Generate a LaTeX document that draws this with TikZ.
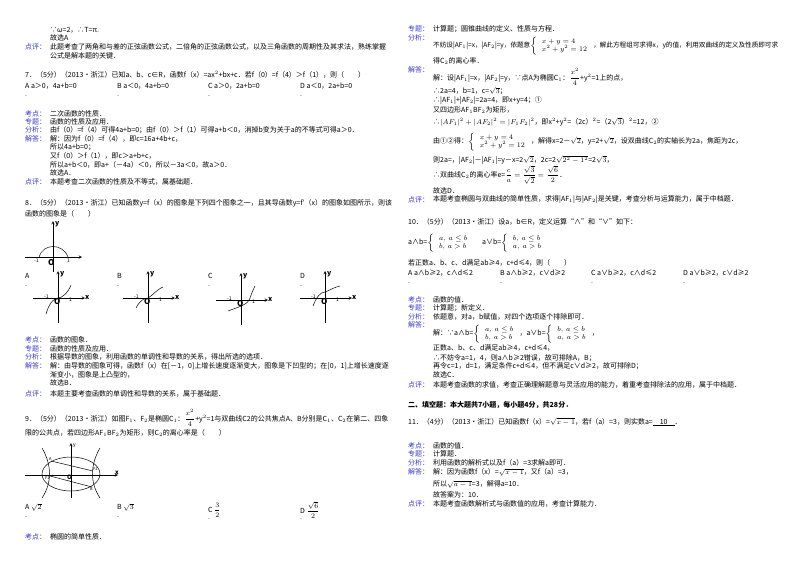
\documentclass[tikz,border=0pt]{standalone}
\usepackage{fontspec}
\setmainfont{Noto Sans CJK SC}
\definecolor{lab}{HTML}{3A3AD0}
\tikzset{T/.style={anchor=west,inner sep=0pt,font=\fontsize{7}{8}\selectfont},
 L/.style={T,text=lab},ax/.style={->,>=stealth,line width=0.5pt},cv/.style={line width=0.5pt}}
\newcommand\Tx[3]{\node[T] at (#1,-#2) {#3};}
\newcommand\Lb[3]{\node[L] at (#1,-#2) {#3};}
\begin{document}
\begin{tikzpicture}[x=1pt,y=1pt]
\fill[white] (0,0) rectangle (800,-566);
\useasboundingbox (0,0) rectangle (800,-566);
% ===== left column
\Tx{50}{30}{∵ω=2，∴T=π.}
\Tx{50}{38}{故选A}
\Lb{25}{47}{点评：}
\Tx{50}{47}{此题考查了两角和与差的正弦函数公式，二倍角的正弦函数公式，以及三角函数的周期性及其求法，熟练掌握}
\Tx{50}{56}{公式是解本题的关键．}
\Tx{25}{75}{7．（5分）（2013•浙江）已知a、b、c∈R，函数f（x）=ax$^2$+bx+c．若f（0）=f（4）＞f（1），则（\quad\quad）}
\Tx{25}{86}{A a＞0，4a+b=0}\Tx{117}{86}{B a＜0，4a+b=0}\Tx{208}{86}{C a＞0，2a+b=0}\Tx{300}{86}{D a＜0，2a+b=0}
\Tx{25}{96}{.}\Tx{117}{96}{.}\Tx{208}{96}{.}\Tx{300}{96}{.}
\Lb{25}{114}{考点：}\Tx{50}{114}{二次函数的性质．}
\Lb{25}{122}{专题：}\Tx{50}{122}{函数的性质及应用．}
\Lb{25}{130}{分析：}\Tx{50}{130}{由f（0）=f（4）可得4a+b=0；由f（0）＞f（1）可得a+b＜0，消掉b变为关于a的不等式可得a＞0．}
\Lb{25}{139}{解答：}\Tx{50}{139}{解：因为f（0）=f（4），即c=16a+4b+c，}
\Tx{50}{147}{所以4a+b=0；}
\Tx{50}{156}{又f（0）＞f（1），即c＞a+b+c，}
\Tx{50}{165}{所以a+b＜0，即a+（－4a）＜0，所以－3a＜0，故a＞0．}
\Tx{50}{173}{故选A．}
\Lb{25}{182}{点评：}\Tx{50}{182}{本题考查二次函数的性质及不等式，属基础题．}
\Tx{25}{203}{8．（5分）（2013•浙江）已知函数y=f（x）的图象是下列四个图象之一，且其导函数y=f′（x）的图象如图所示，则该}
\Tx{25}{214}{函数的图象是（\quad\quad）}
% main graph
\draw[ax] (25,-257) -- (82,-257);
\draw[ax] (53,-272) -- (53,-221);
\draw[cv] (39,-257) .. controls (43,-243) and (63,-243) .. (68,-257);
\node[T,font=\bfseries\fontsize{7}{8}\selectfont] at (55,-224) {y};
\node[T,font=\bfseries\fontsize{8}{8}\selectfont] at (48,-263) {O};
\node[T,font=\fontsize{5}{5}\selectfont] at (34,-261) {-1};
\node[T,font=\fontsize{5}{5}\selectfont] at (67,-261) {1};
% options
\foreach \cx/\cy/\lx/\ty [count=\i] in {58/298/25/A,148/298/117/B,241/300/208/C,325/298/300/D}{
 \node[T] at (\lx,-276) {\ty};\node[T] at (\lx,-286) {.};
 \draw[ax] (\cx-25,-\cy) -- (\cx+27,-\cy);
 \draw[ax] (\cx,-\cy-25) -- (\cx,-\cy+27);
 \node[T,font=\bfseries\fontsize{7}{8}\selectfont] at (\cx+2,-\cy+24) {y};
 \node[T,font=\bfseries\fontsize{7}{8}\selectfont] at (\cx+27,-\cy+1) {x};
 \node[T,font=\bfseries\fontsize{8}{8}\selectfont] at (\cx-4,-\cy-4) {O};
 \node[T,font=\fontsize{5}{5}\selectfont] at (\cx-14,-\cy+1) {-1};
 \node[T,font=\fontsize{5}{5}\selectfont] at (\cx+11,-\cy-2) {1};
}
\draw[cv] (46,-314) .. controls (50,-300) and (56,-298) .. (58,-298) .. controls (62,-298) and (68,-293) .. (71,-285);
\draw[cv] (136,-308) .. controls (140,-300) and (145,-298) .. (148,-298) .. controls (152,-296) and (156,-290) .. (163,-287);
\draw[cv] (228,-311) .. controls (238,-307) and (248,-305) .. (250,-298) .. controls (252,-292) and (254,-288) .. (255,-286);
\draw[cv] (313,-306) .. controls (316,-298) and (320,-292) .. (325,-292) .. controls (330,-290) and (335,-287) .. (340,-286);
\Lb{25}{340}{考点：}\Tx{50}{340}{函数的图象．}
\Lb{25}{349}{专题：}\Tx{50}{349}{函数的性质及应用．}
\Lb{25}{357}{分析：}\Tx{50}{357}{根据导数的图象，利用函数的单调性和导数的关系，得出所选的选项．}
\Lb{25}{366}{解答：}\Tx{50}{366}{解：由导数的图象可得，函数f（x）在[－1，0]上增长速度逐渐变大，图象是下凹型的；在[0，1]上增长速度逐}
\Tx{50}{375}{渐变小，图象是上凸型的，}
\Tx{50}{383}{故选B．}
\Lb{25}{394}{点评：}\Tx{50}{394}{本题主要考查函数的单调性和导数的关系，属于基础题．}
\Tx{25}{418}{9．（5分）（2013•浙江）如图F$_1$、F$_2$是椭圆C$_1$：$\displaystyle\frac{x^2}{4}$+y$^2$=1与双曲线C2的公共焦点A、B分别是C$_1$、C$_2$在第二、四象}
\Tx{25}{433}{限的公共点，若四边形AF$_1$BF$_2$为矩形，则C$_2$的离心率是（\quad\quad）}
% figure 9
\draw[ax] (25,-475) -- (118,-475);
\draw[ax] (71,-498) -- (71,-443);
\draw[cv] (71,-474) ellipse (29 and 17);
\draw[cv] (42,-448) .. controls (52,-465) and (52,-483) .. (42,-498);
\draw[cv] (100,-448) .. controls (90,-465) and (90,-483) .. (100,-498);
\coordinate (A) at (51,-461);\coordinate (B) at (92,-487);
\coordinate (F1) at (50,-476);\coordinate (F2) at (93,-471);
\draw[cv] (A) -- (F2);\draw[cv] (F1) -- (B);
\node[T,font=\fontsize{4}{4}\selectfont] at (49,-459) {A};
\node[T,font=\fontsize{4}{4}\selectfont] at (90,-489) {B};
\node[T,font=\fontsize{4}{4}\selectfont] at (45,-478) {F1};
\node[T,font=\fontsize{4}{4}\selectfont] at (93,-469) {F2};
\node[T,font=\bfseries\fontsize{6}{6}\selectfont] at (67,-477) {O};
\node[T,font=\fontsize{5}{5}\selectfont] at (73,-446) {y};
\node[T,font=\bfseries\fontsize{6}{6}\selectfont] at (115,-473) {x};
\Tx{25}{507}{A $\sqrt{2}$}\Tx{117}{507}{B $\sqrt{3}$}\Tx{208}{510}{C $\displaystyle\frac{3}{2}$}\Tx{300}{510}{D $\displaystyle\frac{\sqrt6}{2}$}
\Tx{25}{517}{.}\Tx{117}{517}{.}\Tx{208}{519}{.}\Tx{300}{519}{.}
\Lb{25}{537}{考点：}\Tx{50}{537}{椭圆的简单性质．}
% ===== right column
\Lb{408}{29}{专题：}\Tx{433}{29}{计算题；圆锥曲线的定义、性质与方程．}
\Lb{408}{38}{分析：}
\node[T,font=\fontsize{6.6}{8}\selectfont] at (433,-46) {不妨设|AF$_1$|=x，|AF$_2$|=y，依题意$\left\{\begin{array}{l}x+y=4\\x^2+y^2=12\end{array}\right.$，解此方程组可求得x，y的值，利用双曲线的定义及性质即可求};
\Tx{433}{61}{得C$_2$的离心率．}
\Lb{408}{70}{解答：}
\Tx{433}{77}{解：设|AF$_1$|=x，|AF$_2$|=y，∵点A为椭圆C$_1$：$\displaystyle\frac{x^2}{4}$+y$^2$=1上的点，}
\Tx{433}{91}{∴2a=4，b=1，c=$\sqrt3$；}
\Tx{433}{101}{∴|AF$_1$|+|AF$_2$|=2a=4，即x+y=4；①}
\Tx{433}{110}{又四边形AF$_1$BF$_2$为矩形，}
\Tx{433}{122}{∴$|AF_1|^2+|AF_2|^2=|F_1F_2|^2$，即x$^2$+y$^2$=（2c）$^2$=（2$\sqrt3$）$^2$=12，②}
\Tx{433}{142}{由①②得：$\left\{\begin{array}{l}x+y=4\\x^2+y^2=12\end{array}\right.$，解得x=2－$\sqrt2$，y=2+$\sqrt2$，设双曲线C$_2$的实轴长为2a，焦距为2c，}
\Tx{433}{160}{则2a=，|AF$_2$|－|AF$_1$|=y－x=2$\sqrt2$，2c=2$\sqrt{2^2-1^2}$=2$\sqrt3$，}
\Tx{433}{175}{∴双曲线C$_2$的离心率e=$\displaystyle\frac{c}{a}=\frac{\sqrt3}{\sqrt2}=\frac{\sqrt6}{2}$．}
\Tx{433}{191}{故选D．}
\Lb{408}{200}{点评：}\Tx{433}{200}{本题考查椭圆与双曲线的简单性质，求得|AF$_1$|与|AF$_2$|是关键，考查分析与运算能力，属于中档题．}
\Tx{408}{222}{10．（5分）（2013•浙江）设a，b∈R，定义运算“∧”和“∨”如下：}
\Tx{408}{243}{a∧b=$\left\{\begin{array}{l}a,\ a\le b\\b,\ a>b\end{array}\right.$\quad\ a∨b=$\left\{\begin{array}{l}b,\ a\le b\\a,\ a>b\end{array}\right.$}
\Tx{408}{263}{若正数a、b、c、d满足ab≥4，c+d≤4，则（\quad\quad）}
\Tx{408}{273}{A a∧b≥2，c∧d≤2}\Tx{500}{273}{B a∧b≥2，c∨d≥2}\Tx{591}{273}{C a∨b≥2，c∧d≤2}\Tx{683}{273}{D a∨b≥2，c∨d≥2}
\Tx{408}{283}{.}\Tx{500}{283}{.}\Tx{591}{283}{.}\Tx{683}{283}{.}
\Lb{408}{300}{考点：}\Tx{433}{300}{函数的值．}
\Lb{408}{308}{专题：}\Tx{433}{308}{计算题；新定义．}
\Lb{408}{317}{分析：}\Tx{433}{317}{依题意，对a，b赋值，对四个选项逐个排除即可．}
\Lb{408}{325}{解答：}
\Tx{433}{334}{解：∵a∧b=$\left\{\begin{array}{l}a,\ a\le b\\b,\ a>b\end{array}\right.$，a∨b=$\left\{\begin{array}{l}b,\ a\le b\\a,\ a>b\end{array}\right.$，}
\Tx{433}{348}{正数a、b、c、d满足ab≥4，c+d≤4，}
\Tx{433}{358}{∴不妨令a=1，4，则a∧b≥2错误，故可排除A，B；}
\Tx{433}{366}{再令c=1，d=1，满足条件c+d≤4，但不满足c∨d≥2，故可排除D；}
\Tx{433}{375}{故选C．}
\Lb{408}{385}{点评：}\Tx{433}{385}{本题考查函数的求值，考查正确理解题意与灵活应用的能力，着重考查排除法的应用，属于中档题．}
\node[T,font=\bfseries\fontsize{7}{8}\selectfont] at (408,-405) {二、填空题：本大题共7小题，每小题4分，共28分．};
\Tx{408}{422}{11．（4分）（2013•浙江）已知函数f（x）=$\sqrt{x-1}$，若f（a）=3，则实数a=\underline{\quad10\quad}．}
\Lb{408}{446}{考点：}\Tx{433}{446}{函数的值．}
\Lb{408}{454}{专题：}\Tx{433}{454}{计算题．}
\Lb{408}{463}{分析：}\Tx{433}{463}{利用函数的解析式以及f（a）=3求解a即可．}
\Lb{408}{472}{解答：}\Tx{433}{472}{解：因为函数f（x）=$\sqrt{x-1}$，又f（a）=3，}
\Tx{433}{484}{所以$\sqrt{a-1}$=3，解得a=10．}
\Tx{433}{495}{故答案为：10．}
\Lb{408}{504}{点评：}\Tx{433}{504}{本题考查函数解析式与函数值的应用，考查计算能力．}
\end{tikzpicture}
\end{document}
